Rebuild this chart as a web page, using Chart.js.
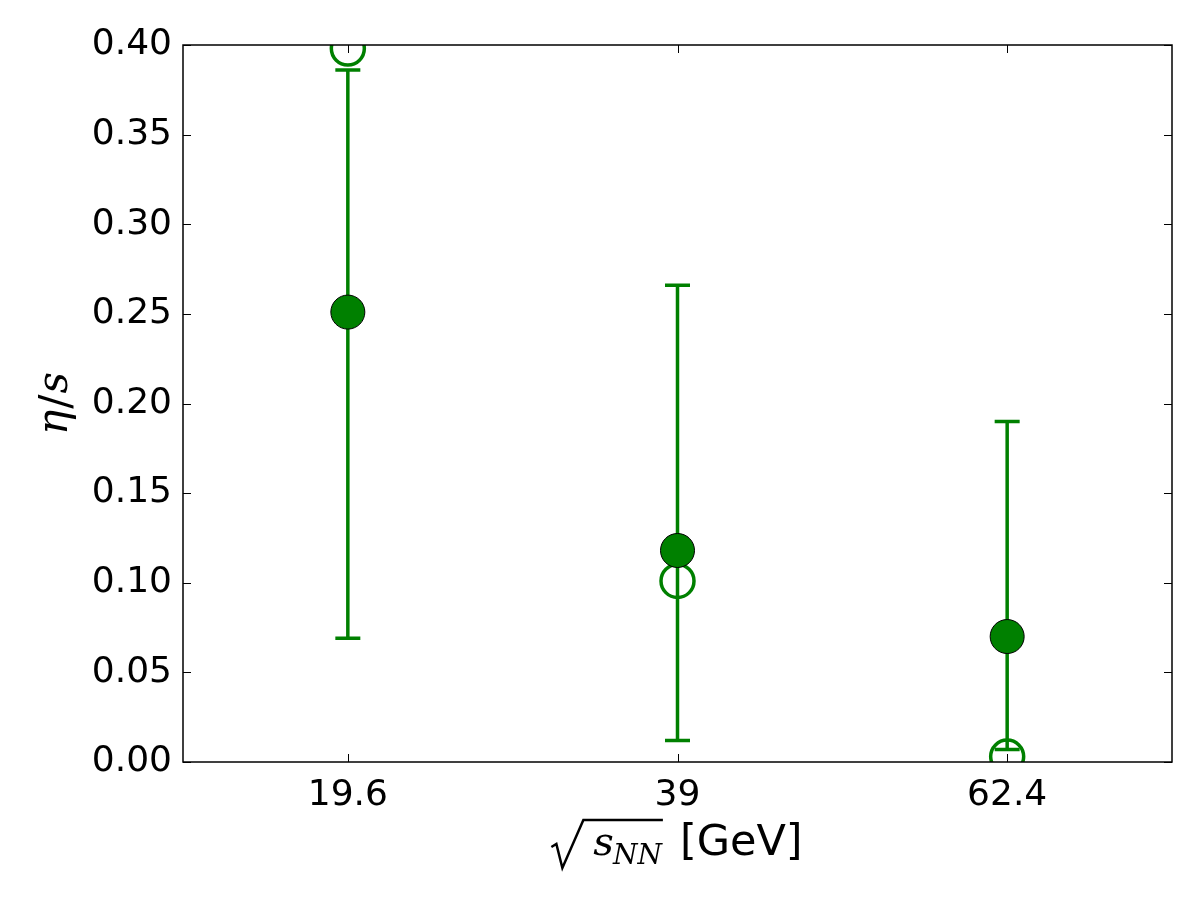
<!DOCTYPE html>
<html>
<head>
<meta charset="utf-8">
<script src="https://cdn.jsdelivr.net/npm/chart.js@4.4.1/dist/chart.umd.min.js"></script>
<style>
  html, body { margin: 0; padding: 0; background: #fff; }
  canvas { display: block; }
</style>
</head>
<body>
<canvas id="etaChart" width="1200" height="900"></canvas>
<script>
// collision energies (GeV)
const energies = ['19.6', '39', '62.4'];

// eta/s values
const fitValues = [0.251, 0.118, 0.070];      // filled markers
const altValues = [0.398, 0.101, 0.003];      // open markers
const errLow = [0.069, 0.012, 0.007];
const errHigh = [0.386, 0.266, 0.190];

const yTicks = [0, 0.05, 0.10, 0.15, 0.20, 0.25, 0.30, 0.35, 0.40];

const GREEN = '#008000';

// error bars, drawn under the markers
const errorBars = {
  id: 'errorBars',
  beforeDatasetsDraw(chart) {
    const { ctx, scales: { x, y }, chartArea } = chart;
    ctx.save();
    ctx.beginPath();
    ctx.rect(chartArea.left, chartArea.top, chartArea.width, chartArea.height);
    ctx.clip();
    ctx.strokeStyle = GREEN;
    ctx.lineWidth = 3.5;
    energies.forEach((e, i) => {
      const px = x.getPixelForValue(i);
      const lo = y.getPixelForValue(errLow[i]);
      const hi = y.getPixelForValue(errHigh[i]);
      ctx.beginPath();
      ctx.moveTo(px, lo);
      ctx.lineTo(px, hi);
      ctx.moveTo(px - 12.5, lo);
      ctx.lineTo(px + 12.5, lo);
      ctx.moveTo(px - 12.5, hi);
      ctx.lineTo(px + 12.5, hi);
      ctx.stroke();
    });
    ctx.restore();
  }
};

// frame + inward ticks on all four sides, axis titles with math layout
const frame = {
  id: 'frame',
  afterDraw(chart) {
    const { ctx, scales: { x, y }, chartArea: a } = chart;
    ctx.save();
    ctx.strokeStyle = '#000';
    ctx.lineWidth = 1;
    ctx.beginPath();
    yTicks.forEach(v => {
      const py = Math.round(y.getPixelForValue(v)) + 0.5;
      ctx.moveTo(a.left, py); ctx.lineTo(a.left + 8, py);
      ctx.moveTo(a.right, py); ctx.lineTo(a.right - 8, py);
    });
    energies.forEach((e, i) => {
      const px = Math.round(x.getPixelForValue(i)) + 0.5;
      ctx.moveTo(px, a.bottom); ctx.lineTo(px, a.bottom - 8);
      ctx.moveTo(px, a.top); ctx.lineTo(px, a.top + 8);
    });
    ctx.stroke();
    ctx.lineWidth = 1.5;
    ctx.strokeRect(a.left, a.top, a.right - a.left, a.bottom - a.top);

    ctx.fillStyle = '#000';
    ctx.textBaseline = 'alphabetic';
    ctx.textAlign = 'left';

    // x title: sqrt(s_NN) [GeV]
    const base = 855;
    const fS = 'italic 40px "DejaVu Serif"';
    const fSub = 'italic 28px "DejaVu Serif"';
    const fTxt = '43px "DejaVu Sans"';
    ctx.font = fS; const wS = ctx.measureText('s').width;
    ctx.font = fSub; const wSub = ctx.measureText('NN').width;
    ctx.font = fTxt; const wTxt = ctx.measureText('[GeV]').width;
    const wRad = 32, gapRad = 10, gapTxt = 18;
    const total = wRad + gapRad + wS + wSub + gapTxt + wTxt;
    let cx = (a.left + a.right) / 2 - total / 2;
    const radLeft = cx;
    cx += wRad + gapRad;
    ctx.font = fS; ctx.fillText('s', cx, base);
    cx += wS - 1;
    ctx.font = fSub; ctx.fillText('NN', cx, base + 9);
    cx += wSub;
    // radical sign
    ctx.lineWidth = 2.5;
    ctx.lineJoin = 'miter';
    ctx.beginPath();
    ctx.moveTo(radLeft, 847);
    ctx.lineTo(radLeft + 5, 844);
    ctx.lineTo(radLeft + 11, 868);
    ctx.lineTo(radLeft + wRad, 820);
    ctx.lineTo(cx + 1, 820);
    ctx.stroke();
    cx += gapTxt;
    ctx.font = fTxt; ctx.fillText('[GeV]', cx, base);

    // y title: eta / s, rotated
    const fEta = 'italic 42px "DejaVu Serif"';
    const fSl = '42px "DejaVu Serif"';
    ctx.font = fEta; const wEta = ctx.measureText('η').width;
    ctx.font = fSl; const wSl = ctx.measureText('/').width;
    ctx.font = fEta; const wS2 = ctx.measureText('s').width;
    const tot = wEta + wSl + wS2 + 2;
    ctx.translate(67, (a.top + a.bottom) / 2);
    ctx.rotate(-Math.PI / 2);
    let tx = -tot / 2;
    ctx.font = fEta; ctx.fillText('η', tx, 0);
    tx += wEta + 1;
    ctx.font = fSl; ctx.fillText('/', tx, 2);
    tx += wSl + 1;
    ctx.font = fEta; ctx.fillText('s', tx, 0);
    ctx.restore();
  }
};

new Chart(document.getElementById('etaChart'), {
  type: 'line',
  data: {
    labels: energies,
    datasets: [
      {
        label: 'fit',
        data: fitValues,
        showLine: false,
        pointRadius: 17,
        pointHoverRadius: 17,
        pointBackgroundColor: GREEN,
        pointBorderColor: '#000',
        pointBorderWidth: 1,
        clip: 0
      },
      {
        label: 'alt',
        data: altValues,
        showLine: false,
        pointRadius: 16.5,
        pointHoverRadius: 16.5,
        pointBackgroundColor: 'rgba(0,0,0,0)',
        pointBorderColor: GREEN,
        pointBorderWidth: 3.5,
        clip: 0
      }
    ]
  },
  options: {
    responsive: false,
    animation: false,
    events: [],
    layout: { padding: { left: 0, top: 45, right: 28, bottom: 0 } },
    plugins: {
      legend: { display: false },
      tooltip: { enabled: false }
    },
    scales: {
      x: {
        type: 'category',
        offset: true,
        grid: { display: false, drawTicks: false },
        border: { display: false },
        ticks: {
          color: '#000',
          padding: 12,
          maxRotation: 0,
          font: { family: '"DejaVu Sans"', size: 36 }
        },
        afterFit(scale) { scale.height = 138; }
      },
      y: {
        min: 0,
        max: 0.4,
        grid: { display: false, drawTicks: false },
        border: { display: false },
        afterBuildTicks(scale) { scale.ticks = yTicks.map(v => ({ value: v })); },
        ticks: {
          color: '#000',
          padding: 11,
          font: { family: '"DejaVu Sans"', size: 36 },
          callback: v => v.toFixed(2)
        },
        afterFit(scale) { scale.width = 183; }
      }
    }
  },
  plugins: [errorBars, frame]
});
</script>
</body>
</html>
